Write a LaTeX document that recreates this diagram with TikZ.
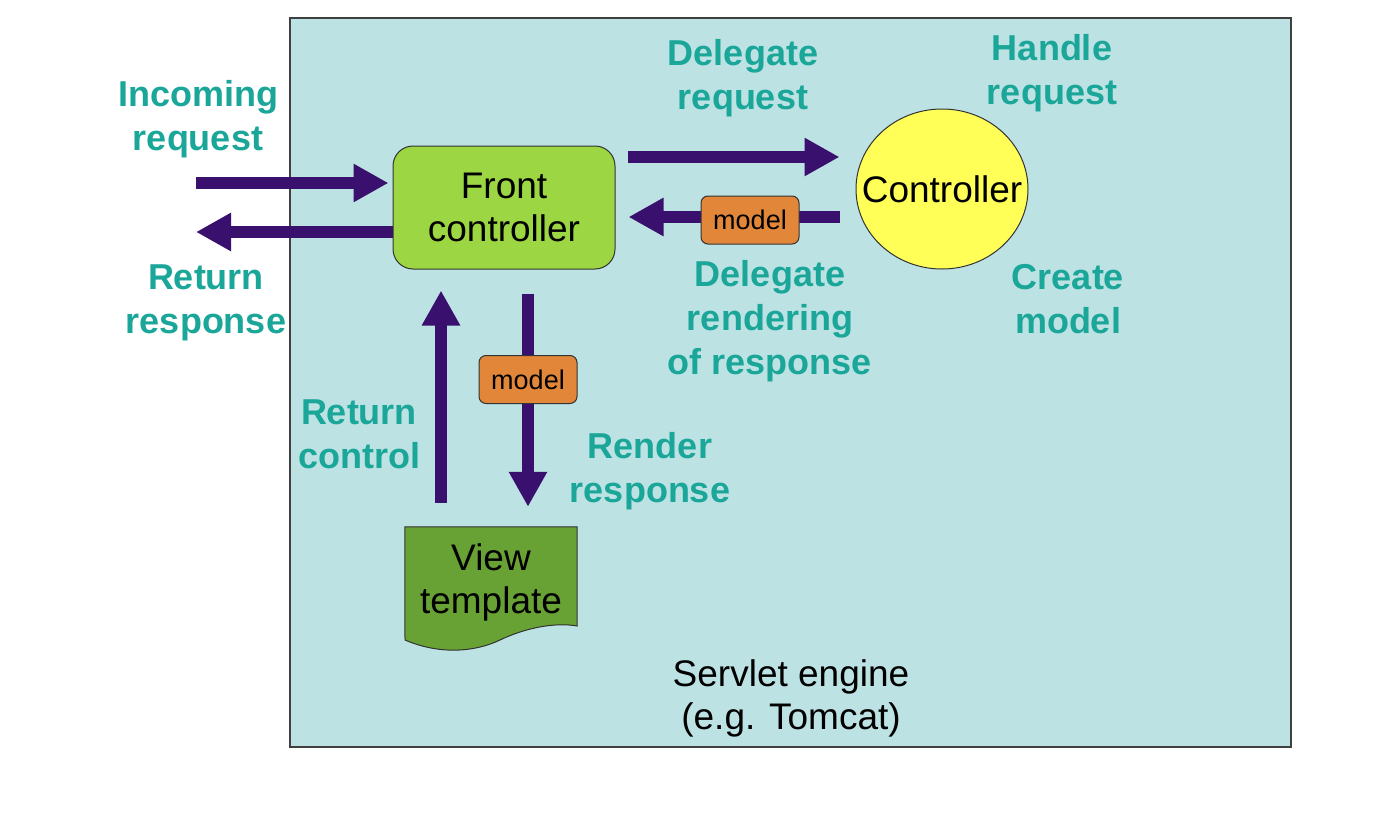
\documentclass[tikz,border=0pt]{standalone}
\usepackage{fontspec}
\setmainfont{Liberation Sans}
\usetikzlibrary{arrows.meta,shapes.geometric}
\definecolor{engine}{RGB}{189,226,227}
\definecolor{labelteal}{RGB}{26,166,152}
\definecolor{flowpurple}{RGB}{58,16,110}
\definecolor{fcgreen}{RGB}{156,214,66}
\definecolor{ctrlyellow}{RGB}{255,255,88}
\definecolor{modelorange}{RGB}{226,135,58}
\definecolor{viewgreen}{RGB}{104,162,52}
\tikzset{
  lbl/.style={text=labelteal, align=center, font=\fontsize{36}{44}\selectfont\bfseries},
  boxtext/.style={align=center, font=\fontsize{37}{43}\selectfont},
  flow/.style={draw=flowpurple, line width=12pt, -{Triangle[width=36pt,length=35pt]}},
  modelbox/.style={draw=black!80, line width=1pt, fill=modelorange, rounded corners=7pt,
    minimum width=98pt, minimum height=48pt, inner sep=0pt, font=\fontsize{27}{30}\selectfont},
}
\begin{document}
\begin{tikzpicture}[x=1pt,y=-1pt]
\useasboundingbox (0,0) rectangle (1398,835);
\fill[white] (0,0) rectangle (1398,835);

% servlet engine
\draw[fill=engine, draw=black!75, line width=1.5pt] (290,18) rectangle (1291,747);
\node[boxtext] (engine) at (791,698) {Servlet engine\\(e.g. Tomcat)};

% main components
\node[boxtext, draw=black!80, line width=1pt, fill=fcgreen, rounded corners=20pt,
      minimum width=222pt, minimum height=123pt, inner sep=0pt] (fc) at (504,207.5) {Front\\controller};
\node[ellipse, draw=black!80, line width=1pt, fill=ctrlyellow, minimum width=172pt,
      minimum height=160pt, inner sep=0pt] (ctrl) at (942,189) {};
\node[boxtext] (ctext) at (ctrl.center) {Controller};

% view template (document shape)
\node[minimum width=172pt, minimum height=100pt, inner sep=0pt] (vt) at (491,577) {};
\draw[fill=viewgreen, draw=black!80, line width=1pt]
  (vt.north west) -- (vt.north east) -- (577,626)
  .. controls (555,622) and (525,628) .. (500,640)
  .. controls (475,652) and (440,655) .. (405,640) -- cycle;
\node[boxtext] (vtext) at (491,582) {View\\template};

% outside end points
\coordinate (in) at (196,183);
\coordinate (out) at (196,232);

% flows
\draw[flow] (in) -- ([xshift=-4pt,yshift=24.5pt]fc.west);
\draw[flow] ([yshift=-24.5pt]fc.west) -- (out);
\draw[flow] ([xshift=12pt,yshift=50.5pt]fc.east) -- ([xshift=-16pt,yshift=32pt]ctrl.west);
\draw[flow] ([xshift=-16pt,yshift=-28pt]ctrl.west) -- ([xshift=13pt,yshift=-9.5pt]fc.east);
\draw[flow] ([xshift=24pt,yshift=-24pt]fc.south) -- ([xshift=37pt,yshift=20pt]vt.north);
\draw[flow] ([xshift=-50pt,yshift=24pt]vt.north) -- ([xshift=-63pt,yshift=-21pt]fc.south);

% model parcels
\node[modelbox] (m1) at (750,220) {model};
\node[modelbox] (m2) at (528,379.5) {model};

% labels
\node[lbl] (l1) at (198,119) {Incoming\\request};
\node[lbl] (l2) at (206,303) {Return\\response};
\node[lbl] (l3) at (743,78) {Delegate\\request};
\node[lbl] (l4) at (1052,73) {Handle\\request};
\node[lbl] (l5) at (770,321) {Delegate\\rendering\\of response};
\node[lbl] (l6) at (1068,299) {Create\\model};
\node[lbl] (l7) at (359,434) {Return\\control};
\node[lbl] (l8) at (650,471) {Render\\response};
\end{tikzpicture}
\end{document}
